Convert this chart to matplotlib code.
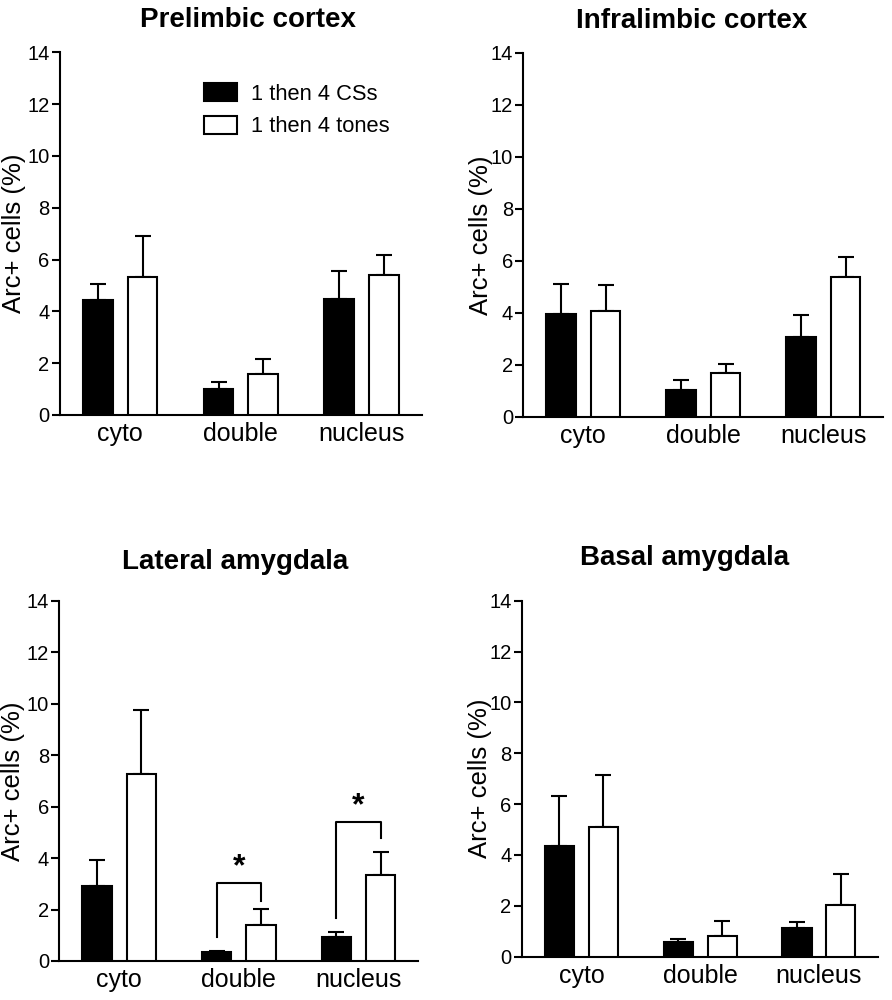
import numpy as np
import matplotlib
matplotlib.use("Agg")
import matplotlib.pyplot as plt
from matplotlib.patches import Patch

plt.rcParams['font.family'] = ['Liberation Sans', 'DejaVu Sans']

# data
groups = ['cyto', 'double', 'nucleus']
regions = ['Prelimbic cortex', 'Infralimbic cortex', 'Lateral amygdala', 'Basal amygdala']
css_mean = [[4.44, 1.02, 4.49],
            [3.97, 1.03, 3.06],
            [2.93, 0.34, 0.92],
            [4.35, 0.59, 1.11]]
css_sem = [[0.62, 0.25, 1.07],
           [1.16, 0.41, 0.85],
           [0.98, 0.06, 0.21],
           [1.97, 0.12, 0.24]]
tones_mean = [[5.34, 1.58, 5.39],
              [4.06, 1.69, 5.37],
              [7.27, 1.40, 3.34],
              [5.09, 0.81, 2.03]]
tones_sem = [[1.57, 0.57, 0.79],
             [1.03, 0.35, 0.80],
             [2.48, 0.61, 0.88],
             [2.05, 0.59, 1.22]]
# significance brackets in lateral amygdala: (group, left foot, right foot, top)
brackets = [(1, 0.95, 2.34, 3.04), (2, 1.66, 4.77, 5.41)]

# layout
axes_pos = [[0.0673, 0.585, 0.4055, 0.3627],
            [0.5867, 0.583, 0.4036, 0.364],
            [0.0665, 0.039, 0.4025, 0.3603],
            [0.5852, 0.0433, 0.3995, 0.356]]
title_x = [0.52, 0.468, 0.489, 0.455]
title_pad = [18, 18, 23, 26]
ylabel_x = [-0.095, -0.085, -0.095, -0.085]

fig = plt.figure(figsize=(8.92, 10), dpi=100)
x = np.arange(len(groups))
w = 0.245
off = 0.185
lw = 1.5

for i, region in enumerate(regions):
    ax = fig.add_axes(axes_pos[i])
    ax.bar(x - off, css_mean[i], w, color='black', edgecolor='black', linewidth=lw, zorder=3)
    ax.bar(x + off, tones_mean[i], w, color='white', edgecolor='black', linewidth=lw, zorder=3)
    ax.errorbar(x - off, css_mean[i], yerr=[np.zeros(3), css_sem[i]], fmt='none',
                ecolor='black', elinewidth=lw, capsize=6, capthick=lw, zorder=2)
    ax.errorbar(x + off, tones_mean[i], yerr=[np.zeros(3), tones_sem[i]], fmt='none',
                ecolor='black', elinewidth=lw, capsize=6, capthick=lw, zorder=2)

    ax.set_xlim(-0.5, 2.5)
    ax.set_ylim(0, 14)
    ax.set_yticks(range(0, 15, 2))
    ax.set_xticks(x)
    ax.set_xticklabels(groups, fontsize=18)
    ax.tick_params(axis='x', length=0, pad=5)
    ax.tick_params(axis='y', length=6, width=lw, pad=1.5, labelsize=14.5, direction='out')
    for s in ['top', 'right']:
        ax.spines[s].set_visible(False)
    for s in ['left', 'bottom']:
        ax.spines[s].set_linewidth(lw)
    ax.set_ylabel('Arc+ cells (%)', fontsize=18.5)
    ax.yaxis.set_label_coords(ylabel_x[i], 0.5)
    ax.set_title(region, fontsize=20, fontweight='bold', x=title_x[i], pad=title_pad[i])

    if i == 0:
        handles = [Patch(facecolor='black', edgecolor='black', linewidth=lw),
                   Patch(facecolor='white', edgecolor='black', linewidth=lw)]
        ax.legend(handles, ['1 then 4 CSs', '1 then 4 tones'], loc='upper left',
                  bbox_to_anchor=(0.398, 0.915), frameon=False, fontsize=15.75,
                  handlelength=1.5, handleheight=0.9, handletextpad=0.65,
                  labelspacing=0.5, borderpad=0, borderaxespad=0)

    if i == 2:
        for g, lo_l, lo_r, top in brackets:
            ax.plot([g - off, g - off, g + off, g + off], [lo_l, top, top, lo_r],
                    color='black', linewidth=lw, zorder=4)
            ax.text(g, top + 0.6, '*', ha='center', va='center', fontsize=23,
                    fontweight='bold')

fig.savefig('out.png', dpi=100)
